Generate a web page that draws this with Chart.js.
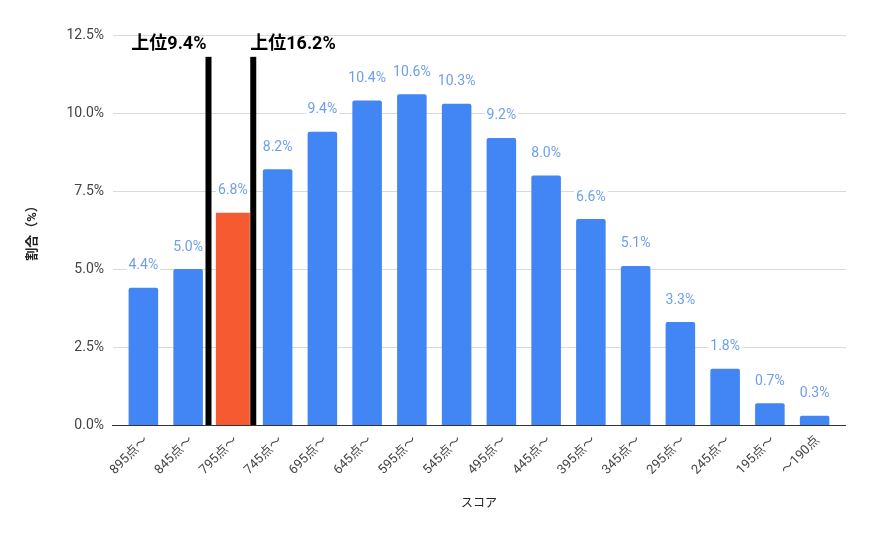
<!DOCTYPE html>
<html>
<head>
<meta charset="utf-8">
<script src="https://cdn.jsdelivr.net/npm/chart.js@4/dist/chart.umd.min.js"></script>
<style>
    html, body { margin: 0; padding: 0; background: #fff; }
    #wrap { width: 872px; height: 540px; }
</style>
</head>
<body>
<div id="wrap"><canvas id="scoreChart"></canvas></div>
<script>
const scoreLabels = ['895点〜', '845点〜', '795点〜', '745点〜', '695点〜', '645点〜', '595点〜', '545点〜',
    '495点〜', '445点〜', '395点〜', '345点〜', '295点〜', '245点〜', '195点〜', '〜190点'];
const shareValues = [4.4, 5.0, 6.8, 8.2, 9.4, 10.4, 10.6, 10.3, 9.2, 8.0, 6.6, 5.1, 3.3, 1.8, 0.7, 0.3];
const yTicks = [0, 2.5, 5, 7.5, 10, 12.5];
const highlightIndex = 2;
const markerAfter = [1, 2];
const markerLabels = ['上位9.4%', '上位16.2%'];
const markerTop = 11.8;

const BLUE = '#4285f4';
const ORANGE = '#f65a31';
const FONT = 'Roboto, "Noto Sans CJK JP", sans-serif';

const blueValues = shareValues.map((v, i) => i === highlightIndex ? null : v);
const orangeValues = shareValues.map((v, i) => i === highlightIndex ? v : null);

const gridPlugin = {
    id: 'wideGrid',
    beforeDatasetsDraw(chart) {
        const { ctx, chartArea, scales } = chart;
        ctx.save();
        ctx.lineWidth = 1;
        yTicks.forEach(t => {
            if (t === 0) return;
            const y = Math.round(scales.y.getPixelForValue(t)) + 0.5;
            ctx.strokeStyle = '#d9d9d9';
            ctx.beginPath();
            ctx.moveTo(chartArea.left - 8, y);
            ctx.lineTo(chartArea.right + 9, y);
            ctx.stroke();
        });
        const y0 = Math.round(scales.y.getPixelForValue(0)) + 0.5;
        ctx.strokeStyle = '#333';
        ctx.beginPath();
        ctx.moveTo(chartArea.left - 9, y0);
        ctx.lineTo(chartArea.right + 9, y0);
        ctx.stroke();
        ctx.restore();
    }
};

const labelPlugin = {
    id: 'barLabels',
    afterDatasetsDraw(chart) {
        const { ctx, scales } = chart;
        ctx.save();
        ctx.font = '14px ' + FONT;
        ctx.textAlign = 'center';
        ctx.textBaseline = 'middle';
        chart.data.datasets.forEach((ds, d) => {
            chart.getDatasetMeta(d).data.forEach((bar, i) => {
                if (ds.data[i] == null) return;
                const text = ds.data[i].toFixed(1) + '%';
                const ty = bar.y - 22;
                const w = ctx.measureText(text).width;
                ctx.fillStyle = '#fff';
                ctx.fillRect(bar.x - w / 2 - 2, ty - 8, w + 4, 16);
                ctx.fillStyle = '#6d9eeb';
                ctx.fillText(text, bar.x, ty);
            });
        });

        // top-rank dividers
        const yTop = scales.y.getPixelForValue(markerTop);
        const yBottom = scales.y.getPixelForValue(0);
        ctx.font = 'bold 18px ' + FONT;
        markerAfter.forEach((idx, k) => {
            const x = (scales.x.getPixelForValue(idx) + scales.x.getPixelForValue(idx + 1)) / 2 - 2;
            ctx.fillStyle = '#000';
            ctx.fillRect(x - 3, yTop, 6, yBottom - yTop);
            ctx.textAlign = k === 0 ? 'right' : 'left';
            ctx.fillText(markerLabels[k], k === 0 ? x - 2 : x - 3, yTop - 12);
        });
        ctx.restore();
    }
};

new Chart(document.getElementById('scoreChart'), {
    type: 'bar',
    data: {
        labels: scoreLabels,
        datasets: [{
            data: blueValues,
            backgroundColor: BLUE,
            borderRadius: 2,
            borderSkipped: 'bottom',
            barPercentage: 0.66,
            categoryPercentage: 1.0,
            grouped: false
        }, {
            data: orangeValues,
            backgroundColor: ORANGE,
            borderRadius: 0,
            barPercentage: 0.76,
            categoryPercentage: 1.0,
            grouped: false
        }]
    },
    options: {
        responsive: true,
        maintainAspectRatio: false,
        animation: false,
        layout: { padding: { left: 0, right: 35, top: 35, bottom: 0 } },
        plugins: {
            legend: { display: false },
            tooltip: { enabled: false }
        },
        scales: {
            y: {
                min: 0,
                max: 12.5,
                afterBuildTicks(scale) {
                    scale.ticks = yTicks.map(v => ({ value: v }));
                },
                afterFit(scale) { scale.width = 121; },
                grid: { display: false, drawTicks: false },
                border: { display: false },
                ticks: {
                    color: '#444',
                    padding: 17,
                    font: { family: FONT, size: 14 },
                    callback: v => v.toFixed(1) + '%'
                },
                title: {
                    display: true,
                    text: '割合（%）',
                    color: '#222',
                    padding: { top: 25, bottom: 0 },
                    font: { family: FONT, size: 13, weight: 'bold' }
                }
            },
            x: {
                afterFit(scale) { scale.height = 115; },
                grid: { display: false, drawTicks: false },
                border: { display: false },
                ticks: {
                    color: '#444',
                    autoSkip: false,
                    minRotation: 45,
                    maxRotation: 45,
                    padding: 8,
                    labelOffset: 3,
                    font: { family: FONT, size: 13 }
                },
                title: {
                    display: true,
                    text: 'スコア',
                    color: '#222',
                    padding: { top: 0, bottom: 29 },
                    font: { family: FONT, size: 12 }
                }
            }
        }
    },
    plugins: [gridPlugin, labelPlugin]
});
</script>
</body>
</html>
